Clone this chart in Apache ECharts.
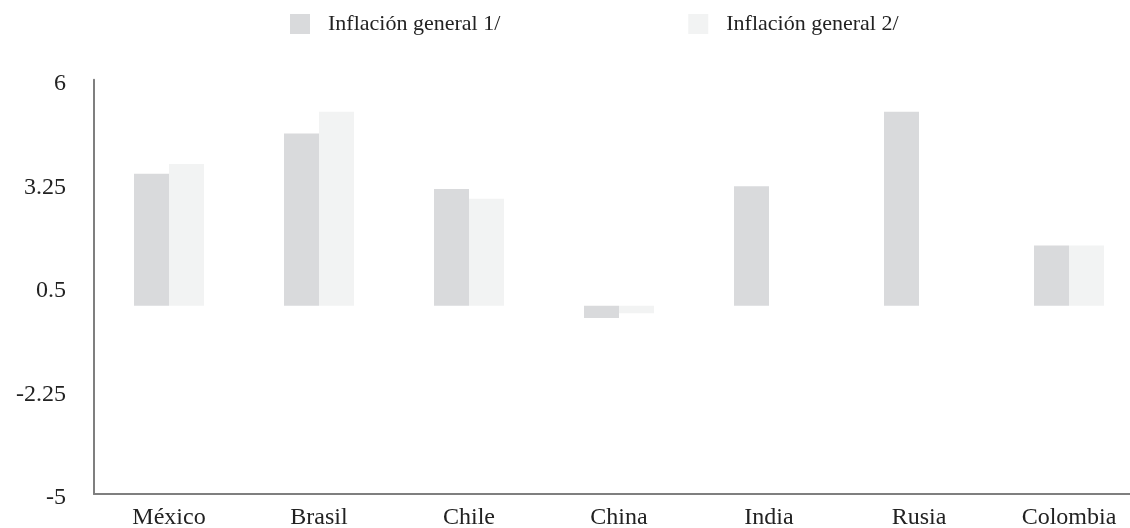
<!DOCTYPE html>
<html>
<head>
<meta charset="utf-8">
<script src="https://cdn.jsdelivr.net/npm/echarts@6/dist/echarts.min.js"></script>
<style>
html,body{margin:0;padding:0;background:#fff;}
#chart{width:1130px;height:528px;}
</style>
</head>
<body>
<div id="chart"></div>
<script>
// datos
const paises = ["México", "Brasil", "Chile", "China", "India", "Rusia", "Colombia"];
const inflacion1 = [3.5, 4.57, 3.1, -0.33, 3.17, 5.15, 1.6];
const inflacion2 = [3.76, 5.15, 2.84, -0.2, null, null, 1.6];
const nombres = ["Inflación general 1/", "Inflación general 2/"];

const fuente = "'Liberation Serif', 'DejaVu Serif', serif";

let myChart = echarts.init(document.getElementById("chart"));
myChart.setOption({
    animation: false,
    textStyle: { fontFamily: fuente },
    legend: {
        data: nombres,
        left: 285,
        top: 8,
        itemWidth: 20,
        itemHeight: 20,
        itemGap: 188,
        icon: "rect",
        textStyle: { fontFamily: fuente, fontSize: 22, color: "#222", padding: [0, 0, 0, 13] }
    },
    grid: {
        left: 94,
        right: -14,
        top: 79.7,
        bottom: 34,
        outerBoundsMode: "none"
    },
    xAxis: {
        type: "category",
        data: paises,
        axisLine: { onZero: false, lineStyle: { color: "#7f7f7f", width: 2 } },
        axisTick: { show: false },
        axisLabel: { fontFamily: fuente, fontSize: 24, color: "#222", margin: 12 }
    },
    yAxis: {
        type: "value",
        min: -5,
        max: 6,
        interval: 2.75,
        axisLine: { show: true, lineStyle: { color: "#7f7f7f", width: 2 } },
        axisTick: { show: false },
        splitLine: { show: false },
        axisLabel: {
            margin: 28,
            formatter: "{v|{value}}",
            rich: {
                v: { fontFamily: fuente, fontSize: 24, color: "#222", padding: [8, 0, 0, 0] }
            }
        }
    },
    series: [
        {
            name: nombres[0],
            type: "bar",
            data: inflacion1,
            barWidth: 35,
            barGap: "0%",
            itemStyle: { color: "#d9dadc" }
        },
        {
            name: nombres[1],
            type: "bar",
            data: inflacion2,
            barWidth: 35,
            barGap: "0%",
            itemStyle: { color: "#f2f3f3" }
        }
    ]
});
</script>
</body>
</html>
